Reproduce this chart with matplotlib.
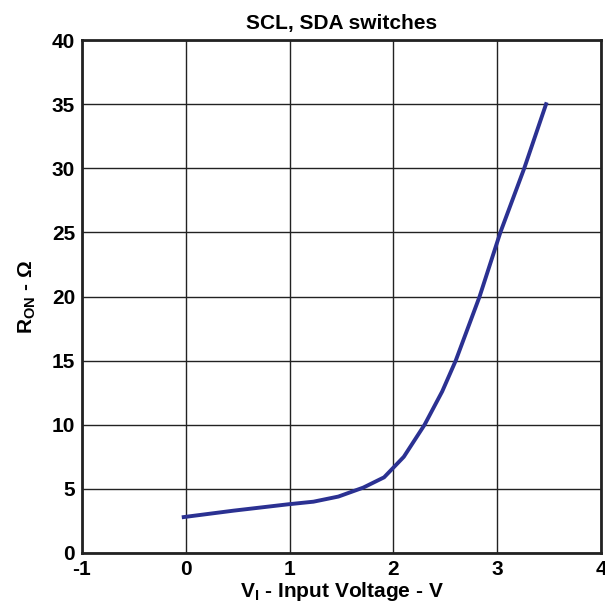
import matplotlib
matplotlib.use("Agg")
import matplotlib.pyplot as plt

# values
v_in = [-0.02, 0.46, 0.99, 1.23, 1.47, 1.71, 1.91, 2.10, 2.30, 2.47, 2.60, 2.83, 3.03, 3.26, 3.47]
r_on = [2.8, 3.3, 3.8, 4.0, 4.4, 5.1, 5.9, 7.5, 10.0, 12.6, 15.0, 20.0, 25.0, 30.0, 35.0]
x_ticks = [-1, 0, 1, 2, 3, 4]
y_ticks = [0, 5, 10, 15, 20, 25, 30, 35, 40]

plt.rcParams['font.family'] = ['Liberation Sans', 'DejaVu Sans']
plt.rcParams['font.weight'] = 'bold'
plt.rcParams['axes.unicode_minus'] = False
plt.rcParams['mathtext.fontset'] = 'custom'
plt.rcParams['mathtext.rm'] = 'Liberation Sans:bold'
plt.rcParams['mathtext.it'] = 'Liberation Sans:bold'
plt.rcParams['mathtext.bf'] = 'Liberation Sans:bold'

fig = plt.figure(figsize=(6.05, 6.07), dpi=100)
ax = fig.add_axes([0.1355, 0.089, 0.858, 0.845])

ax.plot(v_in, r_on, color='#2b3192', lw=2.8, zorder=3)

ax.set_xlim(-1, 4)
ax.set_ylim(0, 40)
ax.set_xticks(x_ticks)
ax.set_yticks(y_ticks)
ax.grid(True, color='#222222', lw=1.0)
ax.tick_params(length=0, labelsize=15, pad=5)
for lab in ax.get_xticklabels() + ax.get_yticklabels():
    lab.set_fontweight('bold')
for s in ax.spines.values():
    s.set_linewidth(2.0)
    s.set_color('#222222')

ax.set_title('SCL, SDA switches', fontsize=15, fontweight='bold', pad=8)
ax.set_xlabel('V$_{I}$ - Input Voltage - V', fontsize=15, fontweight='bold', labelpad=1)
ax.set_ylabel('R$_{ON}$ - Ω', fontsize=15, fontweight='bold', labelpad=10)

fig.savefig('out.png', dpi=100)
